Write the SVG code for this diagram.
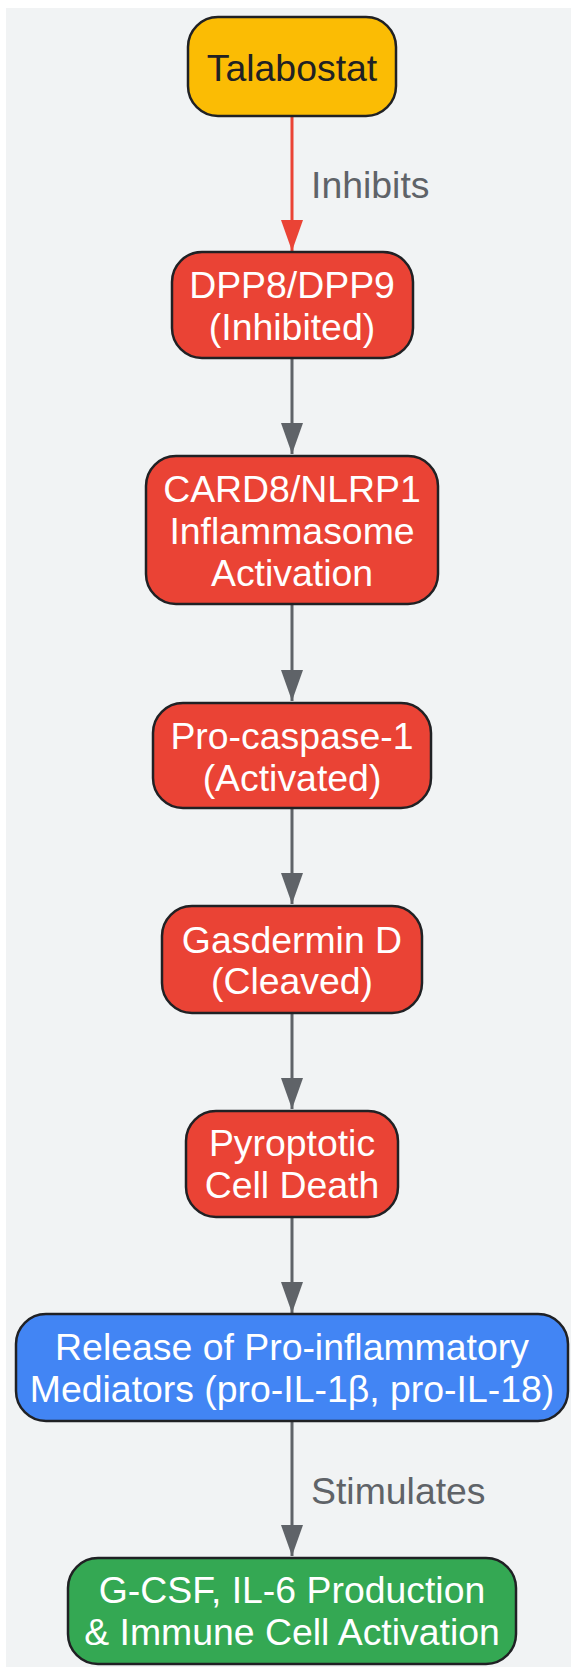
<svg xmlns="http://www.w3.org/2000/svg" width="571" height="1667" viewBox="0 0 571 1667">
<style>
.nd{stroke:#202124;stroke-width:2.5}
.t{font-family:"Liberation Sans",Arial,sans-serif;font-size:37.4px;text-anchor:middle;fill:#ffffff}
.dk{fill:#202124}
.lbl{font-family:"Liberation Sans",Arial,sans-serif;font-size:37.4px;fill:#5F6368}
.e{fill:none;stroke:#5F6368;stroke-width:3}
.er{fill:none;stroke:#EA4335;stroke-width:3}
</style>
<defs>
<marker id="ag" markerUnits="userSpaceOnUse" markerWidth="31" markerHeight="22" refX="31" refY="11" orient="auto"><path d="M0,0 L31,11 L0,22 z" fill="#5F6368"/></marker>
<marker id="ar" markerUnits="userSpaceOnUse" markerWidth="31" markerHeight="22" refX="31" refY="11" orient="auto"><path d="M0,0 L31,11 L0,22 z" fill="#EA4335"/></marker>
</defs>
<rect x="6" y="8" width="565" height="1659" fill="#F1F3F4"/>
<g id="connectors">
<path class="er" d="M292,116 L292,251" marker-end="url(#ar)"/>
<path class="e" d="M292,358 L292,454" marker-end="url(#ag)"/>
<path class="e" d="M292,604 L292,701" marker-end="url(#ag)"/>
<path class="e" d="M292,808 L292,904" marker-end="url(#ag)"/>
<path class="e" d="M292,1013 L292,1109" marker-end="url(#ag)"/>
<path class="e" d="M292,1217 L292,1313" marker-end="url(#ag)"/>
<path class="e" d="M292,1421 L292,1556" marker-end="url(#ag)"/>
<text class="lbl" x="311" y="198">Inhibits</text>
<text class="lbl" x="311" y="1504">Stimulates</text>
</g>
<g id="talabostat">
<rect class="nd" x="188" y="17" width="208" height="99" rx="30" fill="#FBBC04"/>
<text class="t dk" x="292" y="81">Talabostat</text>
</g>
<g id="dpp">
<rect class="nd" x="172" y="252" width="241" height="106" rx="30" fill="#EA4335"/>
<text class="t" x="292" y="298">DPP8/DPP9</text>
<text class="t" x="292" y="340">(Inhibited)</text>
</g>
<g id="card8">
<rect class="nd" x="146" y="456" width="292" height="148" rx="30" fill="#EA4335"/>
<text class="t" x="292" y="502">CARD8/NLRP1</text>
<text class="t" x="292" y="544">Inflammasome</text>
<text class="t" x="292" y="586">Activation</text>
</g>
<g id="procasp">
<rect class="nd" x="153" y="703" width="278" height="105" rx="30" fill="#EA4335"/>
<text class="t" x="292" y="749">Pro-caspase-1</text>
<text class="t" x="292" y="791">(Activated)</text>
</g>
<g id="gsdmd">
<rect class="nd" x="162" y="906" width="260" height="107" rx="30" fill="#EA4335"/>
<text class="t" x="292" y="953">Gasdermin D</text>
<text class="t" x="292" y="994">(Cleaved)</text>
</g>
<g id="pyro">
<rect class="nd" x="186" y="1111" width="212" height="106" rx="30" fill="#EA4335"/>
<text class="t" x="292" y="1156">Pyroptotic</text>
<text class="t" x="292" y="1198">Cell Death</text>
</g>
<g id="release">
<rect class="nd" x="16" y="1314" width="552" height="107" rx="30" fill="#4285F4"/>
<text class="t" x="292" y="1360">Release of Pro-inflammatory</text>
<text class="t" x="292" y="1402">Mediators (pro-IL-1β, pro-IL-18)</text>
</g>
<g id="gcsf">
<rect class="nd" x="68" y="1558" width="448" height="106" rx="30" fill="#34A853"/>
<text class="t" x="292" y="1603">G-CSF, IL-6 Production</text>
<text class="t" x="292" y="1645">&amp; Immune Cell Activation</text>
</g>
</svg>
